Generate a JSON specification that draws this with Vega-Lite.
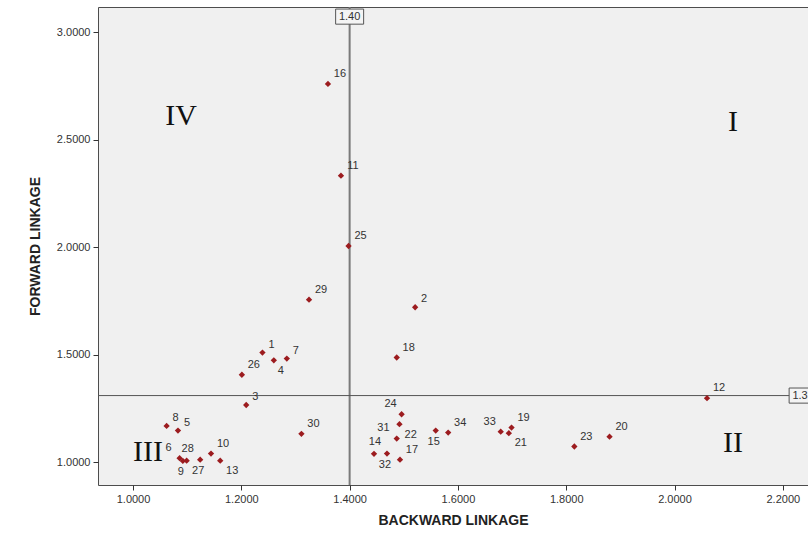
{
  "$schema": "https://vega.github.io/schema/vega-lite/v6.json",
  "width": 710,
  "height": 478,
  "autosize": "none",
  "padding": {"left": 98, "top": 7, "right": 0, "bottom": 50},
  "background": "white",
  "config": {
    "view": {"fill": "#f0f0f0", "stroke": "#4d4d4d", "strokeWidth": 1},
    "font": "Liberation Sans"
  },
  "datasets": {
    "points": [
      {"id": 1, "bl": 1.239, "fl": 1.510},
      {"id": 2, "bl": 1.521, "fl": 1.721},
      {"id": 3, "bl": 1.209, "fl": 1.266},
      {"id": 4, "bl": 1.260, "fl": 1.474},
      {"id": 5, "bl": 1.083, "fl": 1.147},
      {"id": 6, "bl": 1.086, "fl": 1.019},
      {"id": 7, "bl": 1.284, "fl": 1.482},
      {"id": 8, "bl": 1.062, "fl": 1.169},
      {"id": 9, "bl": 1.092, "fl": 1.006},
      {"id": 10, "bl": 1.144, "fl": 1.040},
      {"id": 11, "bl": 1.384, "fl": 2.333},
      {"id": 12, "bl": 2.060, "fl": 1.298},
      {"id": 13, "bl": 1.161, "fl": 1.007},
      {"id": 14, "bl": 1.445, "fl": 1.039},
      {"id": 15, "bl": 1.559, "fl": 1.147},
      {"id": 16, "bl": 1.360, "fl": 2.760},
      {"id": 17, "bl": 1.493, "fl": 1.012},
      {"id": 18, "bl": 1.487, "fl": 1.487},
      {"id": 19, "bl": 1.699, "fl": 1.161},
      {"id": 20, "bl": 1.880, "fl": 1.119},
      {"id": 21, "bl": 1.694, "fl": 1.135},
      {"id": 22, "bl": 1.487, "fl": 1.110},
      {"id": 23, "bl": 1.815, "fl": 1.073},
      {"id": 24, "bl": 1.496, "fl": 1.223},
      {"id": 25, "bl": 1.398, "fl": 2.006},
      {"id": 26, "bl": 1.201, "fl": 1.407},
      {"id": 27, "bl": 1.124, "fl": 1.012},
      {"id": 28, "bl": 1.099, "fl": 1.007},
      {"id": 29, "bl": 1.325, "fl": 1.756},
      {"id": 30, "bl": 1.311, "fl": 1.132},
      {"id": 31, "bl": 1.492, "fl": 1.177},
      {"id": 32, "bl": 1.469, "fl": 1.040},
      {"id": 33, "bl": 1.679, "fl": 1.142},
      {"id": 34, "bl": 1.582, "fl": 1.138}
    ],
    "quadrants": [
      {"q": "IV", "bl": 1.0886, "fl": 2.611},
      {"q": "I", "bl": 2.108, "fl": 2.583},
      {"q": "III", "bl": 1.0277, "fl": 1.048},
      {"q": "II", "bl": 2.108, "fl": 1.090}
    ],
    "refs": [
      {"axis": "x", "value": 1.40, "label": "1.40"},
      {"axis": "y", "value": 1.31, "label": "1.31"}
    ]
  },
  "layer": [
    {
      "data": {"name": "refs"},
      "transform": [{"filter": "datum.axis === 'x'"}],
      "mark": {"type": "rule", "color": "#7a7a7a", "strokeWidth": 2},
      "encoding": {
        "x": {
          "field": "value", "type": "quantitative",
          "scale": {"domain": [0.9353, 2.2465], "nice": false, "zero": false},
          "axis": {
            "values": [1.0, 1.2, 1.4, 1.6, 1.8, 2.0, 2.2],
            "format": ".4f",
            "title": "BACKWARD LINKAGE",
            "titleFontSize": 14, "titleFontWeight": "bold", "titleColor": "#222",
            "titlePadding": 9,
            "labelFontSize": 11, "labelColor": "#333", "labelPadding": 3,
            "tickColor": "#333", "tickSize": 5, "domain": false, "grid": false
          }
        },
        "y": {"datum": 3.1177, "type": "quantitative"},
        "y2": {"datum": 0.894}
      }
    },
    {
      "data": {"name": "refs"},
      "transform": [{"filter": "datum.axis === 'y'"}],
      "mark": {"type": "rule", "color": "#555555", "strokeWidth": 1},
      "encoding": {
        "y": {
          "field": "value", "type": "quantitative",
          "scale": {"domain": [0.894, 3.1177], "nice": false, "zero": false},
          "axis": {
            "values": [1.0, 1.5, 2.0, 2.5, 3.0],
            "format": ".4f",
            "title": "FORWARD LINKAGE",
            "titleFontSize": 14, "titleFontWeight": "bold", "titleColor": "#222",
            "titlePadding": 14,
            "labelFontSize": 11, "labelColor": "#333", "labelPadding": 3,
            "tickColor": "#333", "tickSize": 5, "domain": false, "grid": false
          }
        },
        "x": {"datum": 0.9353, "type": "quantitative"},
        "x2": {"datum": 2.2465}
      }
    },
    {
      "data": {"name": "refs"},
      "transform": [{"filter": "datum.axis === 'x'"}],
      "mark": {"type": "point", "shape": "M-1,-0.54H1V0.54H-1Z", "size": 784, "filled": true, "fill": "#f4f4f4", "stroke": "#555555", "strokeWidth": 1, "opacity": 1},
      "encoding": {
        "x": {"field": "value", "type": "quantitative"},
        "y": {"datum": 3.073, "type": "quantitative"}
      }
    },
    {
      "data": {"name": "refs"},
      "transform": [{"filter": "datum.axis === 'x'"}],
      "mark": {"type": "text", "fontSize": 11, "fill": "#333333", "align": "center", "baseline": "middle"},
      "encoding": {
        "x": {"field": "value", "type": "quantitative"},
        "y": {"datum": 3.073, "type": "quantitative"},
        "text": {"field": "label"}
      }
    },
    {
      "data": {"name": "refs"},
      "transform": [{"filter": "datum.axis === 'y'"}],
      "mark": {"type": "point", "shape": "M-1,-0.54H1V0.54H-1Z", "size": 784, "filled": true, "fill": "#f4f4f4", "stroke": "#555555", "strokeWidth": 1, "opacity": 1},
      "encoding": {
        "x": {"datum": 2.2375, "type": "quantitative"},
        "y": {"field": "value", "type": "quantitative"}
      }
    },
    {
      "data": {"name": "refs"},
      "transform": [{"filter": "datum.axis === 'y'"}],
      "mark": {"type": "text", "fontSize": 11, "fill": "#333333", "align": "center", "baseline": "middle"},
      "encoding": {
        "x": {"datum": 2.2375, "type": "quantitative"},
        "y": {"field": "value", "type": "quantitative"},
        "text": {"field": "label"}
      }
    },
    {
      "data": {"name": "quadrants"},
      "mark": {"type": "text", "font": "Liberation Serif", "fontSize": 30, "fill": "#111111", "align": "center", "baseline": "middle"},
      "encoding": {
        "x": {"field": "bl", "type": "quantitative"},
        "y": {"field": "fl", "type": "quantitative"},
        "text": {"field": "q"}
      }
    },
    {
      "data": {"name": "points"},
      "mark": {"type": "point", "shape": "diamond", "filled": true, "size": 40, "color": "#9c1c1f", "opacity": 1},
      "encoding": {
        "x": {"field": "bl", "type": "quantitative"},
        "y": {"field": "fl", "type": "quantitative"}
      }
    },
    {
      "data": {"name": "points"},
      "transform": [{"filter": {"field": "id", "oneOf": [1, 2, 3, 5, 7, 8]}}],
      "mark": {"type": "text", "fontSize": 11, "fill": "#333333", "align": "center", "baseline": "middle", "dx": 9, "dy": -8},
      "encoding": {
        "x": {"field": "bl", "type": "quantitative"},
        "y": {"field": "fl", "type": "quantitative"},
        "text": {"field": "id"}
      }
    },
    {
      "data": {"name": "points"},
      "transform": [{"filter": {"field": "id", "oneOf": [10, 11, 12, 16, 17, 18, 19, 20, 23, 25, 26, 29, 30, 34]}}],
      "mark": {"type": "text", "fontSize": 11, "fill": "#333333", "align": "center", "baseline": "middle", "dx": 12, "dy": -10},
      "encoding": {
        "x": {"field": "bl", "type": "quantitative"},
        "y": {"field": "fl", "type": "quantitative"},
        "text": {"field": "id"}
      }
    },
    {
      "data": {"name": "points"},
      "transform": [{"filter": {"field": "id", "oneOf": [9, 15, 27, 32]}}],
      "mark": {"type": "text", "fontSize": 11, "fill": "#333333", "align": "center", "baseline": "middle", "dx": -2, "dy": 11},
      "encoding": {
        "x": {"field": "bl", "type": "quantitative"},
        "y": {"field": "fl", "type": "quantitative"},
        "text": {"field": "id"}
      }
    },
    {
      "data": {"name": "points"},
      "transform": [{"filter": {"field": "id", "oneOf": [4]}}],
      "mark": {"type": "text", "fontSize": 11, "fill": "#333333", "align": "center", "baseline": "middle", "dx": 7, "dy": 11},
      "encoding": {
        "x": {"field": "bl", "type": "quantitative"},
        "y": {"field": "fl", "type": "quantitative"},
        "text": {"field": "id"}
      }
    },
    {
      "data": {"name": "points"},
      "transform": [{"filter": {"field": "id", "oneOf": [13, 21]}}],
      "mark": {"type": "text", "fontSize": 11, "fill": "#333333", "align": "center", "baseline": "middle", "dx": 12, "dy": 10},
      "encoding": {
        "x": {"field": "bl", "type": "quantitative"},
        "y": {"field": "fl", "type": "quantitative"},
        "text": {"field": "id"}
      }
    },
    {
      "data": {"name": "points"},
      "transform": [{"filter": {"field": "id", "oneOf": [6, 24, 33]}}],
      "mark": {"type": "text", "fontSize": 11, "fill": "#333333", "align": "center", "baseline": "middle", "dx": -11, "dy": -10},
      "encoding": {
        "x": {"field": "bl", "type": "quantitative"},
        "y": {"field": "fl", "type": "quantitative"},
        "text": {"field": "id"}
      }
    },
    {
      "data": {"name": "points"},
      "transform": [{"filter": {"field": "id", "oneOf": [14, 28]}}],
      "mark": {"type": "text", "fontSize": 11, "fill": "#333333", "align": "center", "baseline": "middle", "dx": 1, "dy": -12},
      "encoding": {
        "x": {"field": "bl", "type": "quantitative"},
        "y": {"field": "fl", "type": "quantitative"},
        "text": {"field": "id"}
      }
    },
    {
      "data": {"name": "points"},
      "transform": [{"filter": {"field": "id", "oneOf": [31]}}],
      "mark": {"type": "text", "fontSize": 11, "fill": "#333333", "align": "center", "baseline": "middle", "dx": -16, "dy": 4},
      "encoding": {
        "x": {"field": "bl", "type": "quantitative"},
        "y": {"field": "fl", "type": "quantitative"},
        "text": {"field": "id"}
      }
    },
    {
      "data": {"name": "points"},
      "transform": [{"filter": {"field": "id", "oneOf": [22]}}],
      "mark": {"type": "text", "fontSize": 11, "fill": "#333333", "align": "center", "baseline": "middle", "dx": 14, "dy": -4},
      "encoding": {
        "x": {"field": "bl", "type": "quantitative"},
        "y": {"field": "fl", "type": "quantitative"},
        "text": {"field": "id"}
      }
    }
  ]
}
